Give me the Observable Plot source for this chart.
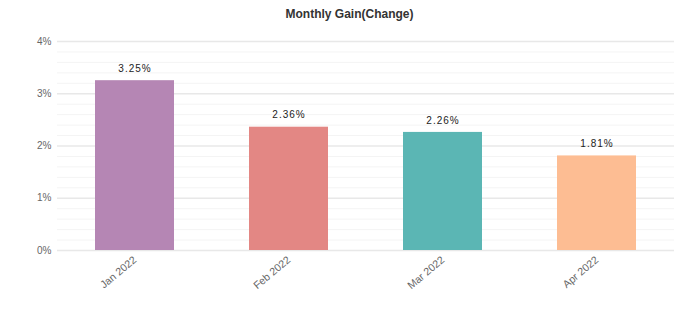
<!DOCTYPE html>
<html>
<head>
<meta charset="utf-8">
<script src="https://cdn.jsdelivr.net/npm/d3@7"></script>
<script src="https://cdn.jsdelivr.net/npm/@observablehq/plot@0.6"></script>
<style>
  html, body { margin: 0; padding: 0; background: #fff; }
  #title { height: 28px; line-height: 28px; text-align: center; font-family: "Liberation Sans", Arial, sans-serif; font-size: 12px; font-weight: bold; color: #333; width: 699px; }
  #chart g[aria-label="text"] text { letter-spacing: 1px; }
</style>
</head>
<body>
<div id="title">Monthly Gain(Change)</div>
<div id="chart"></div>
<script>
const months = ["Jan 2022", "Feb 2022", "Mar 2022", "Apr 2022"];
const gains = [3.25, 2.36, 2.26, 1.81];
const colors = ["#b586b4", "#e38784", "#5bb6b4", "#fdbd93"];
const yMajorTicks = [0, 1, 2, 3, 4];

const data = months.map((m, i) => ({ month: m, gain: gains[i], color: colors[i] }));
const minorTicks = d3.range(0, 4.01, 0.2).map(v => +v.toFixed(1)).filter(v => !yMajorTicks.includes(v));

const chart = Plot.plot({
  width: 699,
  height: 281,
  marginTop: 13,
  marginBottom: 59,
  marginLeft: 57,
  marginRight: 25,
  style: { fontFamily: "Liberation Sans, Arial, sans-serif", fontSize: "10px", color: "#666", background: "#fff" },
  x: { domain: months, paddingInner: 0.49, paddingOuter: 0.245, label: null },
  y: { domain: [0, 4], label: null },
  marks: [
    Plot.ruleY(minorTicks, { stroke: "#f4f4f4", strokeWidth: 1 }),
    Plot.ruleY(yMajorTicks, { stroke: "#e8e8e8", strokeWidth: 1.5 }),
    Plot.barY(data, { x: "month", y: "gain", fill: "color" }),
    Plot.text(data, { x: "month", y: "gain", text: d => d.gain.toFixed(2) + "%", dy: -12, fill: "#222", fontSize: 10 }),
    Plot.axisY(yMajorTicks, { tickFormat: d => d + "%", tickSize: 0, tickPadding: 6, fill: "#666", fontSize: 10 }),
    Plot.axisX({ tickRotate: -40, tickSize: 0, tickPadding: 8, fill: "#666", fontSize: 10.5 })
  ]
});
document.getElementById("chart").appendChild(chart);
</script>
</body>
</html>
